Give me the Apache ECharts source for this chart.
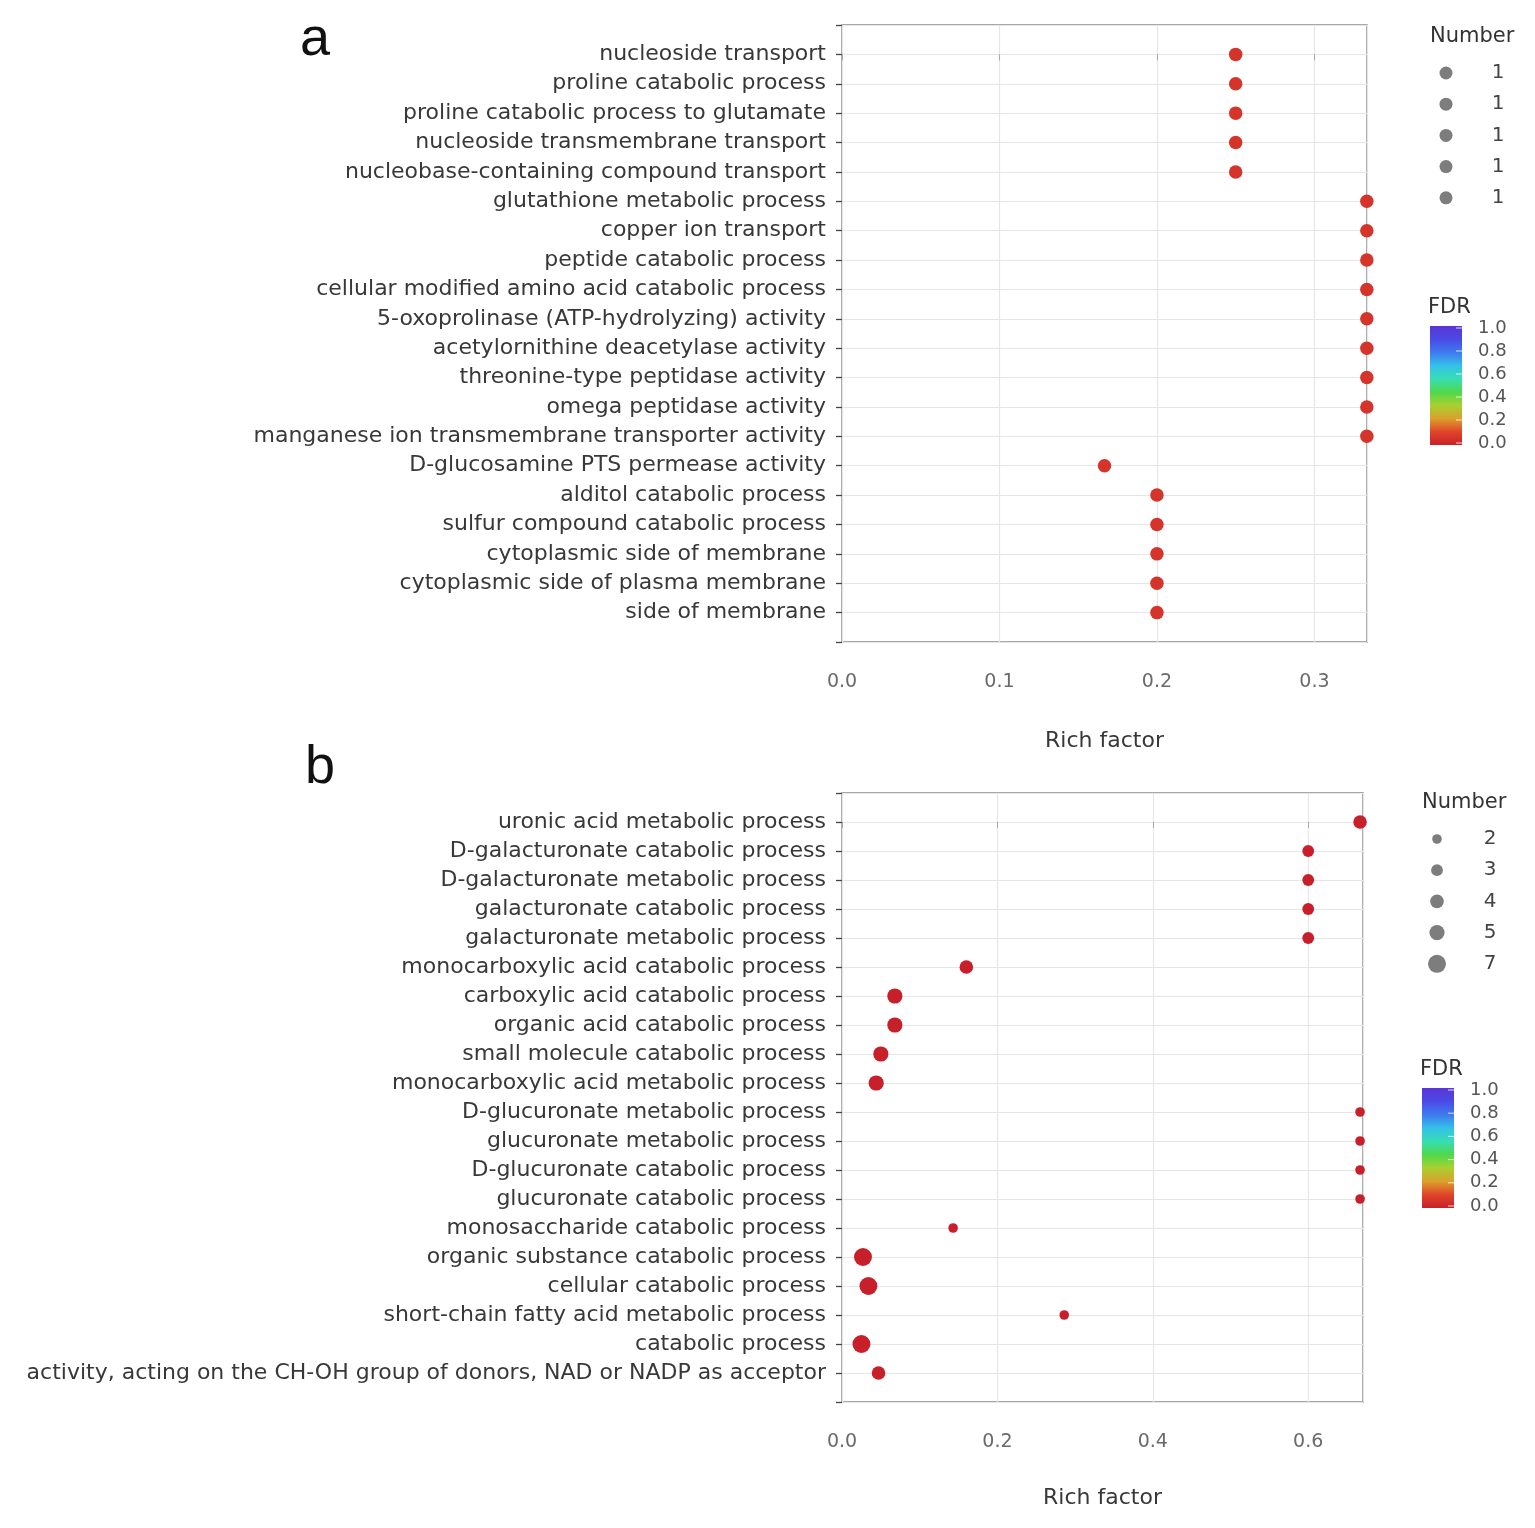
<!DOCTYPE html>
<html>
<head>
<meta charset="utf-8">
<script src="https://cdn.jsdelivr.net/npm/echarts@6/dist/echarts.min.js"></script>
<style>
html,body{margin:0;padding:0;background:#fff;}
#chart{width:1535px;height:1528px;}
</style>
</head>
<body>
<div id="chart"></div>
<script>
// ---------- Data ----------
const categoriesA = [
  'nucleoside transport',
  'proline catabolic process',
  'proline catabolic process to glutamate',
  'nucleoside transmembrane transport',
  'nucleobase-containing compound transport',
  'glutathione metabolic process',
  'copper ion transport',
  'peptide catabolic process',
  'cellular modified amino acid catabolic process',
  '5-oxoprolinase (ATP-hydrolyzing) activity',
  'acetylornithine deacetylase activity',
  'threonine-type peptidase activity',
  'omega peptidase activity',
  'manganese ion transmembrane transporter activity',
  'D-glucosamine PTS permease activity',
  'alditol catabolic process',
  'sulfur compound catabolic process',
  'cytoplasmic side of membrane',
  'cytoplasmic side of plasma membrane',
  'side of membrane'
];
const richFactorA = [0.25, 0.25, 0.25, 0.25, 0.25,
  0.3333, 0.3333, 0.3333, 0.3333, 0.3333, 0.3333, 0.3333, 0.3333, 0.3333,
  0.1667, 0.2, 0.2, 0.2, 0.2, 0.2];
const numberA = [1,1,1,1,1, 1,1,1,1,1,1,1,1,1, 1, 1,1,1,1,1];
const fdrA = [0.06,0.06,0.06,0.06,0.06, 0.06,0.06,0.06,0.06,0.06,0.06,0.06,0.06,0.06, 0.06, 0.06,0.06,0.06,0.06,0.06];

const categoriesB = [
  'uronic acid metabolic process',
  'D-galacturonate catabolic process',
  'D-galacturonate metabolic process',
  'galacturonate catabolic process',
  'galacturonate metabolic process',
  'monocarboxylic acid catabolic process',
  'carboxylic acid catabolic process',
  'organic acid catabolic process',
  'small molecule catabolic process',
  'monocarboxylic acid metabolic process',
  'D-glucuronate metabolic process',
  'glucuronate metabolic process',
  'D-glucuronate catabolic process',
  'glucuronate catabolic process',
  'monosaccharide catabolic process',
  'organic substance catabolic process',
  'cellular catabolic process',
  'short-chain fatty acid metabolic process',
  'catabolic process',
  'activity, acting on the CH-OH group of donors, NAD or NADP as acceptor'
];
const richFactorB = [0.6667, 0.6, 0.6, 0.6, 0.6, 0.16, 0.068, 0.068, 0.050, 0.044,
  0.6667, 0.6667, 0.6667, 0.6667, 0.143, 0.027, 0.034, 0.286, 0.025, 0.047];
const numberB = [4, 3, 3, 3, 3, 4, 5, 5, 5, 5, 2, 2, 2, 2, 2, 7, 7, 2, 7, 4];
const fdrB = [0.0,0.0,0.0,0.0,0.0,0.0,0.0,0.0,0.0,0.0,0.0,0.0,0.0,0.0,0.0,0.0,0.0,0.0,0.0,0.0];

const xTicksA = [0, 0.1, 0.2, 0.3];
const xTicksB = [0, 0.2, 0.4, 0.6];
const legendNumbersA = [1, 1, 1, 1, 1];
const legendNumbersB = [2, 3, 4, 5, 7];
const fdrTicks = [0.0, 0.2, 0.4, 0.6, 0.8, 1.0];
const fdrRamp = ['#c8202a','#e0452a','#dba02c','#a9d02f','#4fd84c','#36deb2','#35c0ea','#3e7aef','#4a4ae6','#5a35d6'];

// ---------- Helpers ----------
const FONT = 'DejaVu Sans';
const sizeA = () => 13.5;
const sizeB = n => 6.8 * Math.sqrt(n);

function makeData(rich, num, fdr){
  return rich.map((r, i) => [r, i, num[i], fdr[i]]);
}

const chart = echarts.init(document.getElementById('chart'), null, {renderer:'canvas'});

function yAxisFor(cats, gi){
  return {
    type:'value', gridIndex:gi, inverse:true, min:-1, max:cats.length, interval:1,
    axisLine:{show:false},
    axisTick:{show:true, length:6, lineStyle:{color:'#444', width:1.3}},
    axisLabel:{margin:16, fontFamily:FONT, fontSize:22, color:'#383838', padding:[7,0,0,0],
      formatter: v => (v >= 0 && v < cats.length) ? cats[v] : ''},
    splitLine:{show:true, lineStyle:{color:'#e6e6e6', width:1.2}}
  };
}
function xAxisFor(gi, max, interval, gap){
  return {
    type:'value', gridIndex:gi, min:0, max:max, interval:interval,
    name:'Rich factor', nameLocation:'middle', nameGap:gap,
    nameTextStyle:{fontFamily:FONT, fontSize:22, color:'#383838'},
    axisLine:{show:false},
    axisTick:{show:true, length:6, lineStyle:{color:'#aaa'}},
    axisLabel:{margin:31, fontFamily:FONT, fontSize:19, color:'#6a6a6a', showMaxLabel:false,
      formatter: v => v.toFixed(1)},
    splitLine:{show:true, lineStyle:{color:'#e6e6e6', width:1.2}}
  };
}

// ---------- Legends (graphic) ----------
const graphics = [];
function txt(x, y, s, size, color, align){
  graphics.push({type:'text', x:x, y:y, z:10, style:{text:s, font:size+'px "'+FONT+'"', fill:color,
    textAlign:align||'left', textVerticalAlign:'middle'}});
}
graphics.push({type:'text', x:315, y:40, style:{text:'a', font:'54px "Liberation Sans"', fill:'#111', textAlign:'center', textVerticalAlign:'middle'}});
graphics.push({type:'text', x:320, y:768, style:{text:'b', font:'54px "Liberation Sans"', fill:'#111', textAlign:'center', textVerticalAlign:'middle'}});

function numberLegend(x0, y0, dotX, labX, step, nums, sizeFn){
  txt(x0, y0, 'Number', 21, '#333');
  nums.forEach((n, k) => {
    const y = y0 + 36 + k*step;
    graphics.push({type:'circle', shape:{cx:dotX, cy:y, r:sizeFn(n)/2}, style:{fill:'#7d7d7d'}});
    txt(labX, y, String(n), 20, '#444', 'center');
  });
}
function fdrBar(x0, yTitle, barTop, barH){
  txt(x0, yTitle, 'FDR', 21, '#333');
  const stops = fdrRamp.map((c, i) => ({offset:i/(fdrRamp.length-1), color:c}));
  graphics.push({type:'rect', shape:{x:x0+2, y:barTop, width:32, height:barH},
    style:{fill:new echarts.graphic.LinearGradient(0,1,0,0,stops)}});
  fdrTicks.forEach(v => {
    const y = barTop + barH - 2 - v*(barH-4);
    graphics.push({type:'line', shape:{x1:x0+28, y1:y, x2:x0+34, y2:y}, style:{stroke:'rgba(255,255,255,0.8)', lineWidth:1}});
    txt(x0+50, y, v.toFixed(1), 18, '#555');
  });
}
numberLegend(1430, 37, 1446, 1498, 31.2, legendNumbersA, () => 13);
fdrBar(1428, 308, 326, 119);
numberLegend(1422, 803, 1437, 1490, 31.2, legendNumbersB, sizeB);
fdrBar(1420, 1070, 1088, 120);

// ---------- Option ----------
const option = {
  backgroundColor:'#fff',
  animation:false,
  grid:[
    {left:842, top:25, width:525, height:617, show:true, borderColor:'#8c8c8c', borderWidth:1.5, backgroundColor:'#fff'},
    {left:842, top:793, width:521, height:609, show:true, borderColor:'#8c8c8c', borderWidth:1.5, backgroundColor:'#fff'}
  ],
  xAxis:[ xAxisFor(0, 0.3334, 0.1, 88), xAxisFor(1, 0.6705, 0.2, 85) ],
  yAxis:[ yAxisFor(categoriesA, 0), yAxisFor(categoriesB, 1) ],
  visualMap:[{
    type:'continuous', show:false, min:0, max:1, dimension:3, seriesIndex:[0,1],
    inRange:{color:fdrRamp}
  }],
  series:[
    {type:'scatter', xAxisIndex:0, yAxisIndex:0, clip:false, symbol:'circle',
     itemStyle:{opacity:1},
     symbolSize: v => sizeA(v[2]), data:makeData(richFactorA, numberA, fdrA)},
    {type:'scatter', xAxisIndex:1, yAxisIndex:1, clip:false, symbol:'circle',
     itemStyle:{opacity:1},
     symbolSize: v => sizeB(v[2]), data:makeData(richFactorB, numberB, fdrB)}
  ],
  graphic:graphics
};
chart.setOption(option);
</script>
</body>
</html>
